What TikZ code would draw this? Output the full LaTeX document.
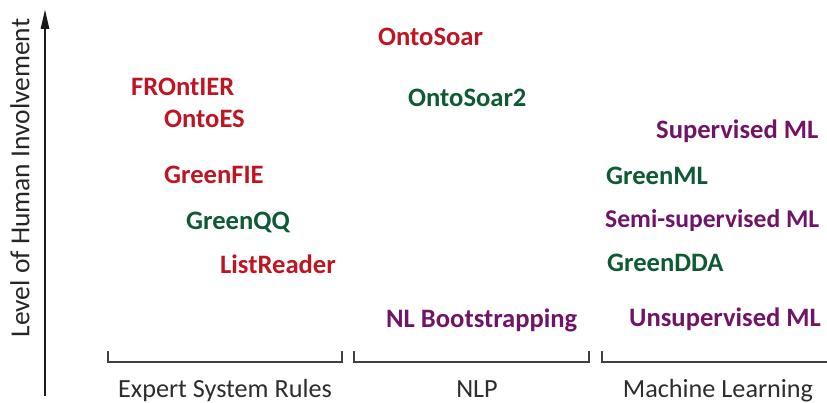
\documentclass[tikz,border=0pt]{standalone}
\usepackage{fontspec}
\setmainfont{Carlito}
\usepackage{tikz}
\usetikzlibrary{arrows.meta}
\definecolor{sysred}{HTML}{BE1522}
\definecolor{sysgreen}{HTML}{0E5A32}
\definecolor{mlpurple}{HTML}{701467}
\definecolor{bracegrey}{HTML}{404040}
\tikzset{
  item/.style={anchor=base west, inner sep=0pt, font=\fontsize{26.6}{30}\selectfont\bfseries},
  rulesys/.style={item, text=sysred},
  oursys/.style ={item, text=sysgreen},
  mlkind/.style ={item, text=mlpurple},
  cat/.style    ={anchor=base, inner sep=0pt, font=\fontsize{26.2}{30}\selectfont, text=bracegrey!70!black},
  brace/.style  ={draw=bracegrey, line width=1.4pt},
  axis/.style   ={-{Triangle[length=20pt,width=8pt]}, line width=2.6pt, draw=black!90},
}
\begin{document}
\begin{tikzpicture}[x=1pt, y=-1pt]
\useasboundingbox (0,0) rectangle (827,403);

% vertical axis
\coordinate (axisbot) at (45,396);
\coordinate (axistop) at (45,9);
\draw[axis] (axisbot) -- (axistop);
\node[rotate=90, inner sep=0pt, font=\fontsize{27.5}{30}\selectfont, text=black!85] (ylbl) at (20,178) {Level of Human Involvement};

% category brackets
\draw[brace] (108,351) |- (342,362) -- (342,351);
\draw[brace] (354,351) |- (589,362) -- (589,351);
\draw[brace] (602,351) |- (828,362);
\node[cat] (esr) at (225,397) {Expert System Rules};
\node[cat] (nlp) at (477,397) {NLP};
\node[cat] (ml)  at (718,397) {Machine Learning};

% expert system rules
\node[rulesys] (frontier) at (131,96)  {FROntIER};
\node[rulesys] (ontoes)   at (164,128) {OntoES};
\node[rulesys] (greenfie) at (164,184) {GreenFIE};
\node[oursys]  (greenqq)  at (186,230) {GreenQQ};
\node[rulesys] (listrdr)  at (220,273) {ListReader};

% NLP
\node[rulesys] (ontosoar)  at (378,46)  {OntoSoar};
\node[oursys]  (ontosoar2) at (408,107) {OntoSoar2};
\node[mlkind]  (nlboot)    at (386,327) {NL Bootstrapping};

% machine learning
\node[mlkind] (supml)   at (656,139) {Supervised ML};
\node[oursys] (greenml) at (606,185) {GreenML};
\node[mlkind, font=\fontsize{25.6}{30}\selectfont\bfseries] (semiml) at (605,228) {Semi-supervised ML};
\node[oursys] (greendda) at (607,272) {GreenDDA};
\node[mlkind] (unsupml) at (629,326) {Unsupervised ML};

\end{tikzpicture}
\end{document}
